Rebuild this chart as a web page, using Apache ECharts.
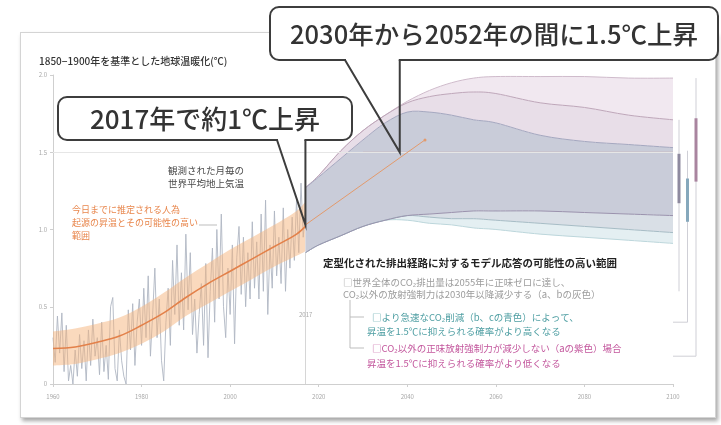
<!DOCTYPE html>
<html>
<head>
<meta charset="utf-8">
<script src="https://cdn.jsdelivr.net/npm/echarts@6/dist/echarts.min.js"></script>
<style>
  html, body { margin: 0; padding: 0; background: #ffffff; }
  #card {
    position: absolute; left: 20px; top: 32px; width: 696px; height: 386px;
    box-sizing: border-box; background: #ffffff; border: 1px solid #d4d4d4;
    box-shadow: 2px 3px 4px rgba(0, 0, 0, 0.35);
  }
  #chart { position: absolute; left: 0; top: 0; width: 721px; height: 425px; }
</style>
</head>
<body>
<div id="card"></div>
<div id="chart"></div>
<script>
// ---- observed monthly global mean surface temperature (sampled every half year) ----
const obsStart = 1960;
const obsStep = 0.5;
const obsValues = [
  0.30, 0.14, 0.44, 0.20, 0.46, 0.08, 0.38, 0.02, 0.12, 0.00,
  0.22, 0.05, 0.32, 0.10, 0.28, 0.02, 0.35, 0.12, 0.42, 0.18,
  0.30, 0.06, 0.40, 0.08, 0.25, 0.03, 0.50, 0.56, 0.10, 0.02,
  0.35, 0.15, 0.05, 0.00, 0.48, 0.22, 0.52, 0.12, 0.40, 0.55,
  0.25, 0.62, 0.30, 0.70, 0.18, 0.45, 0.75, 0.30, 0.55, 0.15,
  0.02, 0.40, 0.62, 0.25, 0.80, 0.45, 0.90, 0.38, 0.72, 0.35,
  0.97, 0.48, 0.85, 0.32, 0.55, 0.20, 0.45, 0.65, 0.25, 0.78,
  0.17, 0.60, 0.88, 0.40, 1.00, 0.55, 1.10, 0.50, 0.30, 0.75,
  0.45, 0.90, 0.26, 0.82, 1.02, 0.58, 0.95, 0.50, 0.85, 0.55,
  1.05, 0.62, 0.92, 0.55, 1.10, 0.60, 1.19, 0.45, 0.90, 0.62,
  1.12, 0.70, 0.95, 0.65, 1.14, 0.60, 1.00, 0.75, 1.08, 0.80,
  1.20, 0.85, 1.30, 0.95, 1.12
];

// ---- estimated human-induced warming and its likely range ----
const trendYears  = [1960, 1965, 1970, 1975, 1980, 1985, 1990, 1995, 2000, 2005, 2010, 2015, 2017];
const trendValues = [0.23, 0.24, 0.27, 0.31, 0.38, 0.46, 0.56, 0.65, 0.73, 0.81, 0.89, 0.97, 1.02];
const trendLow    = [0.12, 0.13, 0.16, 0.20, 0.26, 0.34, 0.44, 0.52, 0.60, 0.68, 0.76, 0.83, 0.86];
const trendHigh   = [0.34, 0.36, 0.39, 0.43, 0.50, 0.59, 0.69, 0.78, 0.87, 0.95, 1.03, 1.12, 1.18];

// ---- likely ranges of modelled responses to stylized pathways ----
const plumeYears   = [2017, 2020, 2025, 2030, 2035, 2040, 2045, 2050, 2055, 2060, 2070, 2080, 2090, 2100];
const purpleUpper  = [1.27, 1.35, 1.51, 1.64, 1.74, 1.83, 1.90, 1.95, 1.98, 1.99, 1.99, 1.99, 1.98, 1.98];
const purpleInner  = [1.27, 1.35, 1.51, 1.64, 1.74, 1.82, 1.86, 1.88, 1.89, 1.88, 1.82, 1.79, 1.74, 1.71];
const greyUpper    = [1.27, 1.34, 1.46, 1.58, 1.69, 1.76, 1.76, 1.74, 1.71, 1.69, 1.61, 1.57, 1.55, 1.53];
const greyLower    = [0.85, 0.90, 0.96, 1.02, 1.06, 1.09, 1.10, 1.11, 1.12, 1.12, 1.12, 1.11, 1.10, 1.09];
const blueInner    = [0.85, 0.90, 0.96, 1.02, 1.06, 1.09, 1.08, 1.07, 1.07, 1.06, 1.04, 1.02, 1.00, 0.98];
const blueLower    = [0.85, 0.90, 0.96, 1.02, 1.06, 1.06, 1.04, 1.03, 1.01, 1.00, 0.97, 0.95, 0.93, 0.91];

// ---- continuation of the current warming rate ----
const projYears  = [2017, 2044];
const projValues = [1.03, 1.58];

// ---- 1.5 °C level ----
const limitYears  = [2030, 2100];
const limitValues = [1.5, 1.5];
const limitLevel = 1.5;
const markYear = 2017;

// ---- ranges in 2100 (grey, blue, purple) ----
const rangeHigh = [1.71, 1.51, 1.98];
const rangeLow  = [0.60, 0.40, 0.18];
const boxHigh   = [1.49, 1.33, 1.72];
const boxLow    = [1.17, 1.05, 1.31];
const rangeEndYear = 2100;

// ---- callout anchors ----
const callout1Anchor = [2017, 1.03];
const callout2Anchor = [2038.3, 1.5];

const FONT = '"Noto Sans CJK JP", "Noto Sans", sans-serif';

const pairs = (xs, ys) => xs.map((x, i) => [x, ys[i]]);
const obsData = obsValues.map((v, i) => [obsStart + i * obsStep, v]);

// Filled bands between two curves, bottom to top
const plumeBands = [
  { top: blueInner,   bottom: blueLower,   fill: '#e4eff2' },
  { top: greyLower,   bottom: blueInner,   fill: '#d9dfe6' },
  { top: greyUpper,   bottom: greyLower,   fill: '#c9ccd9' },
  { top: purpleInner, bottom: greyUpper,   fill: '#e8dee8' },
  { top: purpleUpper, bottom: purpleInner, fill: '#f1e8f0' }
];
// Boundary curves of the plume
const plumeEdges = [
  { values: blueLower,   stroke: '#bcd6db' },
  { values: blueInner,   stroke: '#a6bcc5' },
  { values: greyLower,   stroke: '#9a92ad' },
  { values: purpleUpper, stroke: '#cfbbcb' },
  { values: purpleInner, stroke: '#bea6b9' },
  { values: greyUpper,   stroke: '#a4a7bf' }
];

// Smooth curve through pixel points (Catmull-Rom converted to cubic Bezier)
function curvePath(pts, start) {
  let d = (start ? 'M' : 'L') + pts[0][0].toFixed(2) + ' ' + pts[0][1].toFixed(2);
  const t = 1 / 6;
  for (let i = 0; i < pts.length - 1; i++) {
    const p0 = pts[i - 1] || pts[i], p1 = pts[i], p2 = pts[i + 1], p3 = pts[i + 2] || pts[i + 1];
    const c1x = p1[0] + (p2[0] - p0[0]) * t, c1y = p1[1] + (p2[1] - p0[1]) * t;
    const c2x = p2[0] - (p3[0] - p1[0]) * t, c2y = p2[1] - (p3[1] - p1[1]) * t;
    d += ' C' + c1x.toFixed(2) + ' ' + c1y.toFixed(2) + ' ' + c2x.toFixed(2) + ' ' +
         c2y.toFixed(2) + ' ' + p2[0].toFixed(2) + ' ' + p2[1].toFixed(2);
  }
  return d;
}

function bandPath(api, years, top, bottom) {
  const up = years.map((y, i) => api.coord([y, top[i]]));
  const lo = years.map((y, i) => api.coord([y, bottom[i]])).reverse();
  return curvePath(up, true) + ' ' + curvePath(lo, false) + ' Z';
}

const chart = echarts.init(document.getElementById('chart'), null, { renderer: 'canvas' });

const option = {
  animation: false,
  backgroundColor: 'transparent',
  grid: { left: 53, right: 48, top: 75, bottom: 41 },
  xAxis: {
    type: 'value', min: 1960, max: 2100, interval: 20,
    axisLine: { lineStyle: { color: '#cfcfcf' } },
    axisTick: { length: 3, lineStyle: { color: '#cfcfcf' } },
    axisLabel: { fontSize: 6, color: '#a8a8a8', margin: 10, fontFamily: FONT, formatter: v => String(v) },
    splitLine: { show: false }
  },
  yAxis: {
    type: 'value', min: 0, max: 2, interval: 0.5,
    axisLine: { show: true, lineStyle: { color: '#cfcfcf' } },
    axisTick: { show: true, length: 3, lineStyle: { color: '#cfcfcf' } },
    axisLabel: { fontSize: 6, color: '#a8a8a8', margin: 6, fontFamily: FONT,
                 formatter: v => (v === 0 ? '0' : v.toFixed(1)) },
    splitLine: { show: false }
  },
  series: [
    {
      name: 'observed', type: 'line', data: obsData, symbol: 'none', z: 2,
      lineStyle: { color: '#b0b7c3', width: 0.9 },
      markLine: {
        silent: true, symbol: 'none', label: { show: false },
        data: [
          { yAxis: limitLevel, lineStyle: { color: '#e6e6e6', width: 1, type: 'solid' } },
          [ { coord: [markYear, 0], lineStyle: { color: '#d6d6d6', width: 1, type: 'solid' } },
            { coord: [markYear, greyLower[0]] } ]
        ]
      }
    },
    {
      name: 'humanRange', type: 'custom', z: 3, clip: false, silent: true,
      data: [[trendYears[0], trendHigh[0]]],
      renderItem(params, api) {
        return { type: 'path', shape: { pathData: bandPath(api, trendYears, trendHigh, trendLow) },
                 style: { fill: 'rgba(246,180,124,0.5)', stroke: null } };
      }
    },
    {
      name: 'trend', type: 'line', data: pairs(trendYears, trendValues), smooth: 0.35,
      symbol: 'none', z: 5, lineStyle: { color: '#e3814a', width: 1.6 }
    },
    {
      name: 'plume', type: 'custom', z: 3, clip: false, silent: true,
      data: plumeBands.map((b, i) => [plumeYears[0], b.top[0], i]),
      renderItem(params, api) {
        const b = plumeBands[api.value(2)];
        return { type: 'path', shape: { pathData: bandPath(api, plumeYears, b.top, b.bottom) },
                 style: { fill: b.fill, stroke: null } };
      }
    },
    {
      name: 'plumeEdges', type: 'custom', z: 4, clip: false, silent: true,
      data: plumeEdges.map((e, i) => [plumeYears[0], e.values[0], i]),
      renderItem(params, api) {
        const e = plumeEdges[api.value(2)];
        const pts = plumeYears.map((y, i) => api.coord([y, e.values[i]]));
        return { type: 'path', shape: { pathData: curvePath(pts, true) },
                 style: { fill: null, stroke: e.stroke, lineWidth: 1 } };
      }
    },
    {
      name: 'limit', type: 'line', data: pairs(limitYears, limitValues), symbol: 'none', z: 4,
      lineStyle: { color: '#c9acaf', width: 1 }
    },
    {
      name: 'projection', type: 'line', data: pairs(projYears, projValues), z: 6,
      symbol: (v, p) => (p.dataIndex === projYears.length - 1 ? 'circle' : 'none'),
      symbolSize: 3, showSymbol: true,
      itemStyle: { color: '#e39a6c' },
      lineStyle: { color: '#e39a6c', width: 1 }
    },
    {
      name: 'ranges2100', type: 'custom', z: 6, clip: false, silent: true,
      data: rangeHigh.map((h, i) => [rangeEndYear, h, i, rangeLow[i], boxLow[i], boxHigh[i]]),
      renderItem(params, api) {
        const i = api.value(2);
        const end = api.coord([rangeEndYear, 0]);
        const x = end[0] + 6 + i * 8.5;
        const yOf = v => api.coord([rangeEndYear, v])[1];
        const boxColors = ['#8e8a9f', '#86a8bc', '#a9849f'];
        const children = [
          { type: 'line', shape: { x1: x, y1: yOf(api.value(1)), x2: x, y2: yOf(api.value(3)) },
            style: { stroke: '#cfcfd6', lineWidth: 1 } },
          { type: 'rect', shape: { x: x - 1.5, y: yOf(api.value(5)), width: 3,
                                   height: yOf(api.value(4)) - yOf(api.value(5)) },
            style: { fill: boxColors[i] } }
        ];
        if (i > 0) {
          children.push({ type: 'line', shape: { x1: end[0], y1: yOf(api.value(3)), x2: x, y2: yOf(api.value(3)) },
                          style: { stroke: '#cfcfd6', lineWidth: 1 } });
        }
        return { type: 'group', children };
      }
    }
  ]
};

chart.setOption(option);

// ---- text annotations and callouts ----
function txt(text, x, y, size, color, extra) {
  return {
    type: 'text', z: 100, silent: true,
    style: Object.assign({
      text, x, y, fill: color, fontSize: size, fontFamily: FONT,
      align: 'left', verticalAlign: 'middle', textAlign: 'left', textVerticalAlign: 'middle'
    }, extra || {})
  };
}

function callout(box, tailLeftX, tip, label, size) {
  const bottom = box.y + box.h;
  return [
    { type: 'rect', z: 100, silent: true,
      shape: { x: box.x, y: box.y, width: box.w, height: box.h, r: 9 },
      style: { fill: '#ffffff', stroke: '#3d3d3d', lineWidth: 2 } },
    { type: 'rect', z: 101, silent: true,
      shape: { x: tailLeftX + 1, y: bottom - 2.5, width: tip[0] - tailLeftX - 2, height: 5 },
      style: { fill: '#ffffff' } },
    { type: 'polyline', z: 102, silent: true,
      shape: { points: [[tailLeftX, bottom], tip, [tip[0], bottom]] },
      style: { stroke: '#3d3d3d', lineWidth: 2, fill: null } },
    txt(label, box.x + box.w / 2, box.y + box.h / 2 + 1, size, '#333333',
        { align: 'center', textAlign: 'center', fontWeight: 500 })
  ];
}

const tip1 = chart.convertToPixel({ gridIndex: 0 }, callout1Anchor);
const tip2 = chart.convertToPixel({ gridIndex: 0 }, callout2Anchor);

const elements = [
  txt('1850−1900年を基準とした地球温暖化(℃)', 39, 61, 10, '#333333', { fontWeight: 500 }),
  txt('観測された月毎の\n世界平均地上気温', 168, 177, 9.5, '#4a4a4a', { lineHeight: 12.5 }),
  txt('今日までに推定される人為\n起源の昇温とその可能性の高い\n範囲', 72, 223, 9, '#e8864c', { lineHeight: 13 }),
  { type: 'line', z: 100, silent: true, shape: { x1: 199, y1: 225, x2: 217, y2: 225 },
    style: { stroke: '#bdbdbd', lineWidth: 1 } },
  txt('2017', 299, 315, 6, '#a8a8a8'),
  txt('定型化された排出経路に対するモデル応答の可能性の高い範囲', 323, 263, 10.5, '#222222', { fontWeight: 'bold' }),
  txt('□世界全体のCO₂排出量は2055年に正味ゼロに達し、\nCO₂以外の放射強制力は2030年以降減少する（a、bの灰色）', 343, 288, 9.5, '#9c9c9c', { lineHeight: 12 }),
  { type: 'polyline', z: 100, silent: true,
    shape: { points: [[350, 300], [350, 348], [364, 348]] },
    style: { stroke: '#bdbdbd', lineWidth: 1, fill: null } },
  { type: 'line', z: 100, silent: true, shape: { x1: 350, y1: 317, x2: 364, y2: 317 },
    style: { stroke: '#bdbdbd', lineWidth: 1 } },
  txt('□より急速なCO₂削減（b、cの青色）によって、', 372, 317, 9.5, '#4f9fa3'),
  txt('昇温を1.5℃に抑えられる確率がより高くなる', 367, 331, 9.5, '#4f9fa3'),
  txt('□CO₂以外の正味放射強制力が減少しない（aの紫色）場合', 372, 348, 9.5, '#c3579d'),
  txt('昇温を1.5℃に抑えられる確率がより低くなる', 367, 363, 9.5, '#c3579d')
].concat(
  callout({ x: 58, y: 97, w: 294, h: 43 }, 277, tip1, '2017年で約1℃上昇', 26),
  callout({ x: 270, y: 7, w: 448, h: 53 }, 345, tip2, '2030年から2052年の間に1.5℃上昇', 25.5)
);

chart.setOption({ graphic: { elements } });
</script>
</body>
</html>
